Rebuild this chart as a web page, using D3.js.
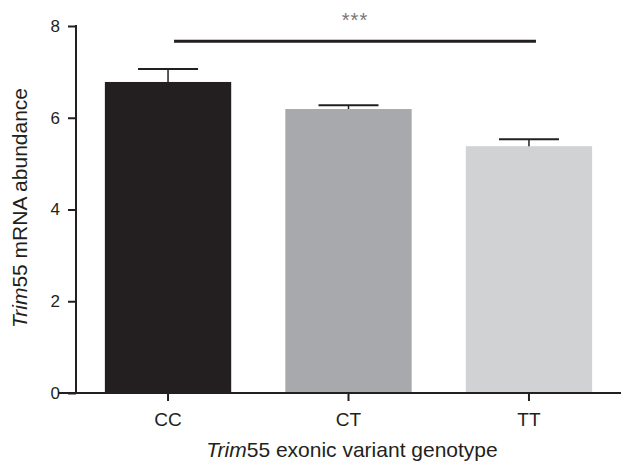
<!DOCTYPE html>
<html>
<head>
<meta charset="utf-8">
<script src="https://cdn.jsdelivr.net/npm/d3@7"></script>
<style>
  body { margin: 0; background: #fff; }
  text { font-family: "Liberation Sans", Arial, sans-serif; fill: #231f20; }
</style>
</head>
<body>
<svg id="chart" width="621" height="462"></svg>
<script>
var genotypes = ["CC", "CT", "TT"];
var meanAbundance = [6.78, 6.19, 5.38];
var semAbundance = [0.28, 0.08, 0.15];
var barColours = ["#231f20", "#a7a9ac", "#d1d2d3"];
var yTicks = [0, 2, 4, 6, 8];
var sigLevel = 7.67;
var sigLabel = "***";

var svg = d3.select("#chart");
var ink = "#231f20";

var x = d3.scaleBand().domain(genotypes).range([76, 621])
  .paddingInner(0.3).paddingOuter(0.16);
var y = d3.scaleLinear().domain([0, 8]).range([393, 26]);

var rows = genotypes.map(function (g, i) {
  return { g: g, mean: meanAbundance[i], sem: semAbundance[i], colour: barColours[i] };
});

// bars
svg.append("g").selectAll("rect").data(rows).enter()
  .append("rect")
  .attr("x", function (d) { return x(d.g); })
  .attr("width", x.bandwidth())
  .attr("y", function (d) { return y(d.mean); })
  .attr("height", function (d) { return y(0) - y(d.mean); })
  .attr("fill", function (d) { return d.colour; });

// error bars (upper only)
var err = svg.append("g").attr("stroke", ink).attr("stroke-width", 2);
rows.forEach(function (d) {
  var cx = x(d.g) + x.bandwidth() / 2;
  err.append("line").attr("x1", cx).attr("x2", cx)
    .attr("y1", y(d.mean)).attr("y2", y(d.mean + d.sem)).attr("stroke-width", 1.5);
  err.append("line").attr("x1", cx - 30).attr("x2", cx + 30)
    .attr("y1", y(d.mean + d.sem)).attr("y2", y(d.mean + d.sem));
});

// y axis
var yAxis = svg.append("g").attr("transform", "translate(76,0)")
  .call(d3.axisLeft(y).tickValues(yTicks).tickSize(8).tickPadding(8).tickSizeOuter(0));
yAxis.select(".domain").remove();
yAxis.append("line").attr("x1", 0).attr("x2", 0)
  .attr("y1", y(8) - 1).attr("y2", y(0)).attr("stroke", ink).attr("stroke-width", 2);
yAxis.selectAll(".tick line").attr("stroke", ink).attr("stroke-width", 2);
yAxis.selectAll(".tick text").style("font-size", "17px").attr("fill", ink);

// x axis
var xAxis = svg.append("g").attr("transform", "translate(0," + y(0) + ")")
  .call(d3.axisBottom(x).tickSize(8).tickPadding(12).tickSizeOuter(0));
xAxis.select(".domain").remove();
xAxis.append("line").attr("x1", 58).attr("x2", 621)
  .attr("stroke", ink).attr("stroke-width", 2);
xAxis.selectAll(".tick line").attr("stroke", ink).attr("stroke-width", 2);
xAxis.selectAll(".tick text").style("font-size", "19px").attr("fill", ink);

// significance
var sx1 = x("CC") + x.bandwidth() / 2 + 6;
var sx2 = x("TT") + x.bandwidth() / 2 + 7;
svg.append("line").attr("x1", sx1).attr("x2", sx2)
  .attr("y1", y(sigLevel)).attr("y2", y(sigLevel))
  .attr("stroke", ink).attr("stroke-width", 3);
svg.append("text").attr("x", (sx1 + sx2) / 2).attr("y", 27)
  .attr("text-anchor", "middle").style("font-size", "20px").style("fill", "#777")
  .style("letter-spacing", "1px")
  .text(sigLabel);

// axis titles
var yt = svg.append("text").attr("transform", "translate(27,208) rotate(-90)")
  .attr("text-anchor", "middle").style("font-size", "21px");
yt.append("tspan").style("font-style", "italic").text("Trim");
yt.append("tspan").text("55 mRNA abundance");

var xt = svg.append("text").attr("x", 352).attr("y", 457)
  .attr("text-anchor", "middle").style("font-size", "21px");
xt.append("tspan").style("font-style", "italic").text("Trim");
xt.append("tspan").text("55 exonic variant genotype");
</script>
</body>
</html>
